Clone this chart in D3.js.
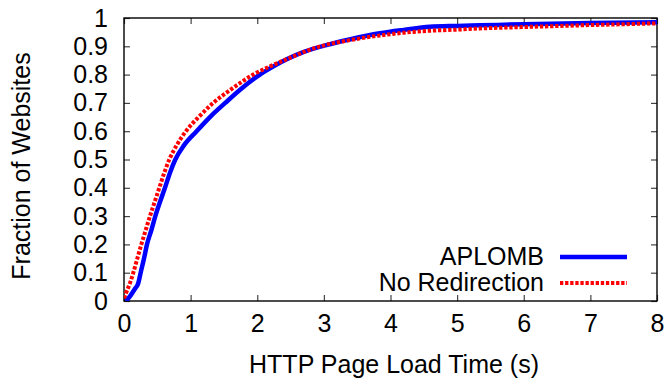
<!DOCTYPE html>
<html>
<head>
<meta charset="utf-8">
<script src="https://cdn.jsdelivr.net/npm/d3@7"></script>
<style>
  html, body { margin: 0; padding: 0; background: #fff; }
  svg text { font-family: "Liberation Sans", Arial, Helvetica, sans-serif; fill: #000; }
</style>
</head>
<body>
<svg id="chart" width="669" height="378"></svg>
<script>
// Page load time (s) vs. cumulative fraction of websites
const aplombTime = [0.03,0.10,0.17,0.21,0.25,0.30,0.345,0.41,0.47,0.54,0.615,0.685,0.77,0.90,1.09,1.29,1.52,1.76,2.04,2.25,2.45,2.70,3.05,3.40,3.84,4.20,4.59,5.00,5.34,6.00,7.00,8.00];
const aplombFrac = [0,0.02,0.045,0.06,0.10,0.15,0.20,0.25,0.30,0.35,0.40,0.45,0.50,0.55,0.60,0.65,0.70,0.75,0.80,0.83,0.855,0.88,0.905,0.925,0.946,0.958,0.969,0.972,0.974,0.978,0.982,0.985];

const noRedirTime = [0,0.05,0.10,0.14,0.20,0.26,0.325,0.39,0.46,0.53,0.60,0.68,0.79,0.93,1.12,1.34,1.62,1.94,2.20,2.50,2.70,2.95,3.35,3.90,4.20,4.59,5.00,5.34,6.00,7.00,8.00];
const noRedirFrac = [0.01,0.04,0.07,0.10,0.15,0.20,0.25,0.30,0.35,0.40,0.45,0.50,0.55,0.60,0.65,0.70,0.75,0.80,0.83,0.86,0.88,0.90,0.92,0.94,0.948,0.955,0.959,0.963,0.968,0.975,0.981];

const xTicks = [0,1,2,3,4,5,6,7,8];
const yTicks = [0,0.1,0.2,0.3,0.4,0.5,0.6,0.7,0.8,0.9,1];
const seriesNames = ["APLOMB", "No Redirection"];
const xTitle = "HTTP Page Load Time (s)";
const yTitle = "Fraction of Websites";

const W = 669, H = 378;
const margin = { left: 124, right: 12, top: 18, bottom: 77 };
const svg = d3.select("#chart");

const x = d3.scaleLinear().domain([0, 8]).range([margin.left, W - margin.right]);
const y = d3.scaleLinear().domain([0, 1]).range([H - margin.bottom, margin.top]);

const fontSize = 25;
const tickLen = 6;

// clip lines to the plot frame
svg.append("defs").append("clipPath").attr("id", "plotClip")
  .append("rect")
  .attr("x", x(0)).attr("y", y(1))
  .attr("width", x(8) - x(0)).attr("height", y(0) - y(1));

// axes with inward ticks on all four sides
const fmtY = d => d === 0 ? "0" : d === 1 ? "1" : d3.format(".1f")(d);

const gBottom = svg.append("g").attr("transform", `translate(0,${y(0)})`)
  .call(d3.axisBottom(x).tickValues(xTicks).tickSizeInner(-tickLen).tickSizeOuter(0).tickPadding(14).tickFormat(d3.format("d")));
const gLeft = svg.append("g").attr("transform", `translate(${x(0)},0)`)
  .call(d3.axisLeft(y).tickValues(yTicks).tickSizeInner(-tickLen).tickSizeOuter(0).tickPadding(16).tickFormat(fmtY));
const gTop = svg.append("g").attr("transform", `translate(0,${y(1)})`)
  .call(d3.axisTop(x).tickValues(xTicks).tickSizeInner(-tickLen).tickSizeOuter(0).tickFormat(""));
const gRight = svg.append("g").attr("transform", `translate(${x(8)},0)`)
  .call(d3.axisRight(y).tickValues(yTicks).tickSizeInner(-tickLen).tickSizeOuter(0).tickFormat(""));

[gBottom, gLeft, gTop, gRight].forEach(g => {
  g.select(".domain").remove();
  g.selectAll(".tick line").attr("stroke", "#444").attr("stroke-width", 1.2);
  g.selectAll(".tick text").attr("font-size", fontSize).attr("font-family", null).attr("fill", "#000");
});
gBottom.selectAll(".tick text").attr("dy", "0.66em");

// frame
svg.append("rect")
  .attr("x", x(0)).attr("y", y(1))
  .attr("width", x(8) - x(0)).attr("height", y(0) - y(1))
  .attr("fill", "none").attr("stroke", "#000").attr("stroke-width", 1.4);

// series
const line = d3.line().x(d => x(d[0])).y(d => y(d[1])).curve(d3.curveMonotoneX);
const aplomb = aplombTime.map((t, i) => [t, aplombFrac[i]]);
const noRedir = noRedirTime.map((t, i) => [t, noRedirFrac[i]]);

const plot = svg.append("g").attr("clip-path", "url(#plotClip)");
plot.append("path").datum(aplomb)
  .attr("d", line).attr("fill", "none")
  .attr("stroke", "#0000ff").attr("stroke-width", 4.5).attr("stroke-linejoin", "round");
plot.append("path").datum(noRedir)
  .attr("d", line).attr("fill", "none")
  .attr("stroke", "#ff0000").attr("stroke-width", 4).attr("stroke-dasharray", "3.3,1.8");

// legend
const legend = svg.append("g");
const legendItems = [
  { name: seriesNames[0], color: "#0000ff", width: 4.5, dash: null, y: 257 },
  { name: seriesNames[1], color: "#ff0000", width: 4, dash: "3.3,1.8", y: 283 }
];
legendItems.forEach(it => {
  legend.append("text").attr("x", 544).attr("y", it.y + 8)
    .attr("text-anchor", "end").attr("font-size", fontSize).text(it.name);
  legend.append("line").attr("x1", 560).attr("x2", 627).attr("y1", it.y).attr("y2", it.y)
    .attr("stroke", it.color).attr("stroke-width", it.width)
    .attr("stroke-dasharray", it.dash);
});

// axis titles
svg.append("text").attr("x", 394).attr("y", 373)
  .attr("text-anchor", "middle").attr("font-size", fontSize).text(xTitle);
svg.append("text").attr("transform", `translate(30,166) rotate(-90)`)
  .attr("text-anchor", "middle").attr("font-size", fontSize).text(yTitle);
</script>
</body>
</html>
